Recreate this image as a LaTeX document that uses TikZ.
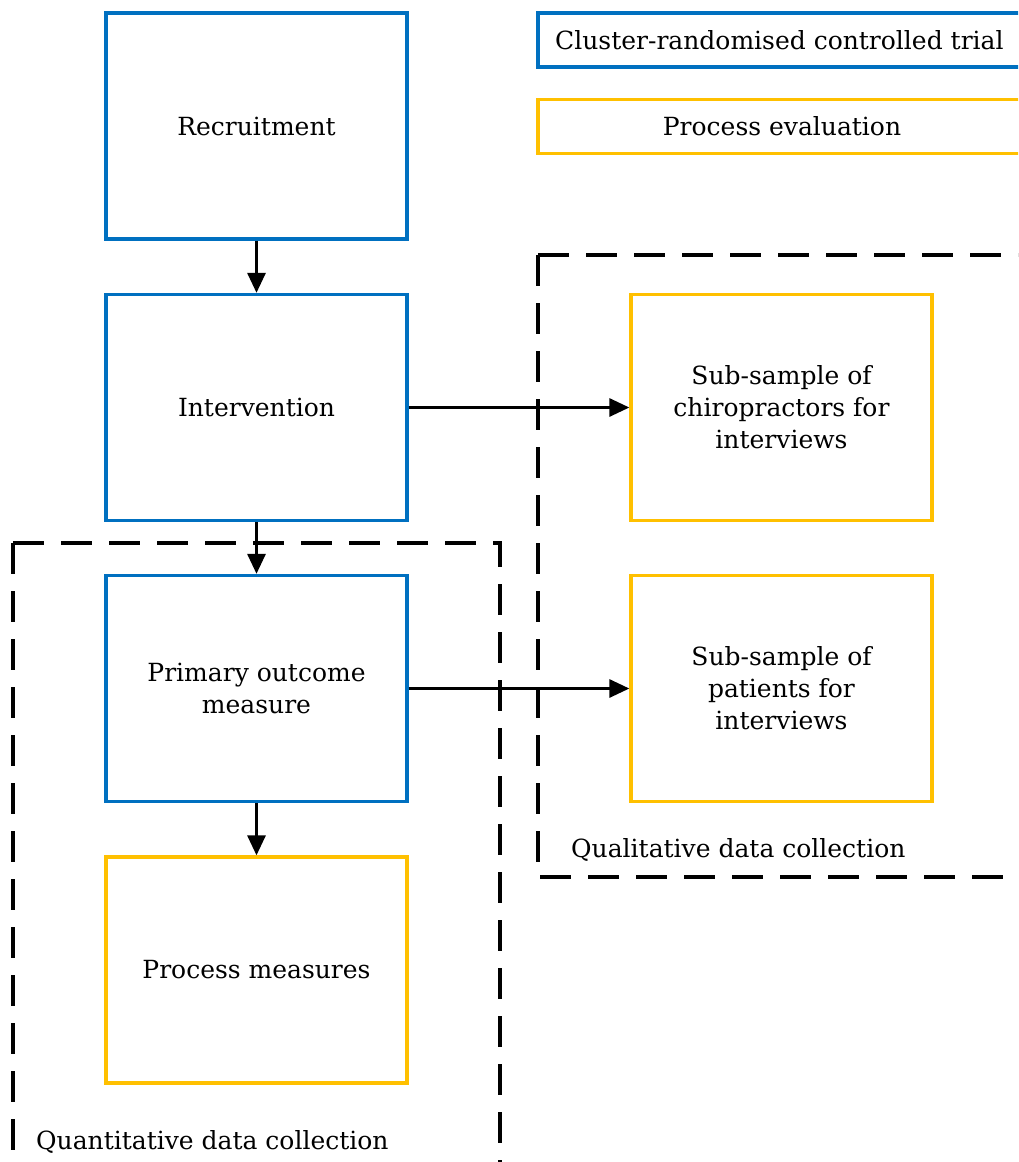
\documentclass[tikz,border=0pt]{standalone}
\usepackage{fontspec}
\setmainfont{DejaVu Serif}
\usetikzlibrary{arrows.meta}
\definecolor{trialblue}{HTML}{0070C0}
\definecolor{evalgold}{HTML}{FFC000}
\begin{document}
\begin{tikzpicture}[x=1pt,y=-1pt,
  every node/.style={font=\fontsize{25}{32}\selectfont, text=black},
  stage/.style={draw, line width=3.3pt, minimum width=301pt, minimum height=226pt,
    align=center, inner sep=0pt},
  trial/.style={stage, draw=trialblue},
  evalbox/.style={stage, draw=evalgold},
  keybox/.style={draw, line width=3.3pt, minimum width=488pt, minimum height=54pt, inner sep=0pt},
  region/.style={draw=black, line width=3.5pt, dash pattern=on 31pt off 17pt},
  regionlabel/.style={anchor=base west, inner sep=0pt},
  flow/.style={-{Triangle[length=20pt,width=18pt]}, line width=3pt, draw=black}]
\useasboundingbox (0,0) rectangle (1018,1162);
\clip (0,0) rectangle (1018,1162);

% dashed regions, each dash run starting from a corner
\draw[region] (13,543) -- (13,1200);
\draw[region] (13,543) -- (500,543) -- (500,1200);
\node[regionlabel] (quant) at (36,1149) {Quantitative data collection};
\draw[region] (538,255) -- (1060,255);
\draw[region] (538,255) -- (538,877) -- (1060,877);
\node[regionlabel] (qual) at (571,857) {Qualitative data collection};

% key
\node[keybox, draw=trialblue] (keytrial) at (782,40) {};
\node[anchor=west, inner sep=0pt] (keytrialtext) at (555,40) {Cluster-randomised controlled trial};
\node[keybox, draw=evalgold] (keyeval) at (782,126.5) {Process evaluation};

% trial stages
\node[trial] (recruit) at (256.5,126) {Recruitment};
\node[trial] (interv) at (256.5,407.5) {Intervention};
\node[trial] (primary) at (256.5,688.5) {Primary outcome\\measure};
\node[evalbox] (procmeas) at (256.5,970) {Process measures};

% interview sub-samples
\node[evalbox] (chiro) at (781.5,407.5) {Sub-sample of\\chiropractors for\\interviews};
\node[evalbox] (patients) at (781.5,688.5) {Sub-sample of\\patients for\\interviews};

% connectors
\draw[flow] (recruit) -- (interv);
\draw[flow] (interv) -- (primary);
\draw[flow] (primary) -- (procmeas);
\draw[flow] (interv) -- (chiro);
\draw[flow] (primary) -- (patients);
\end{tikzpicture}
\end{document}
